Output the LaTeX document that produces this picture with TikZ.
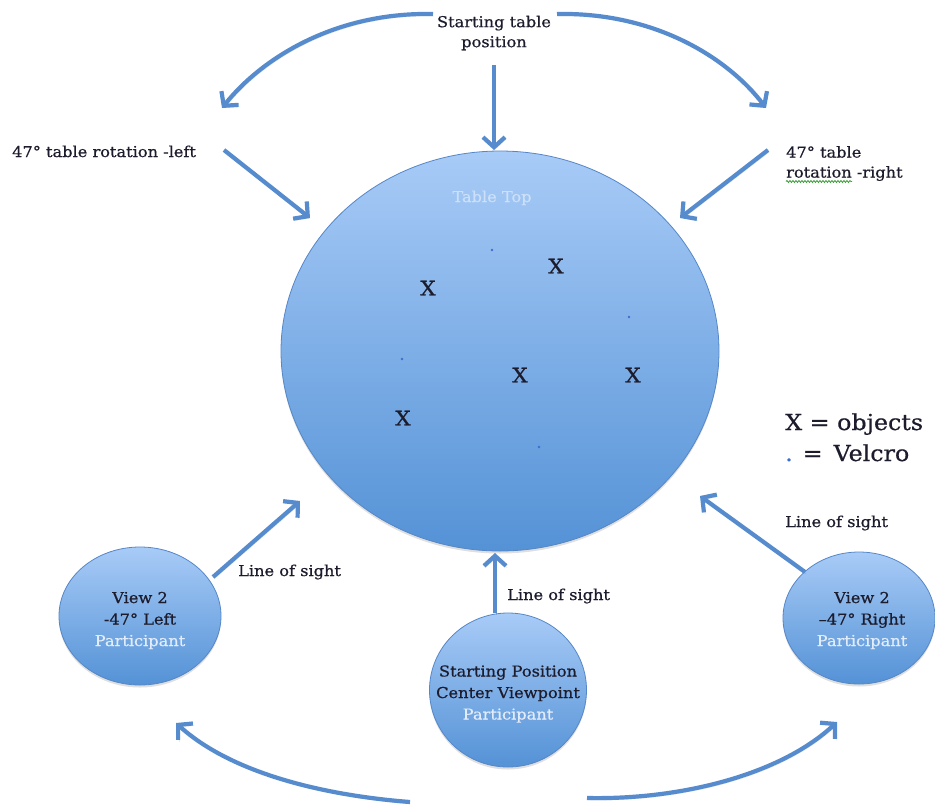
\documentclass[tikz,border=0pt]{standalone}
\usepackage{fontspec}
\setmainfont{DejaVu Serif}[FakeStretch=1.08,FakeBold=0.6]
\usetikzlibrary{arrows.meta,shapes.geometric,shadows,decorations.pathmorphing}
\definecolor{arrowblue}{RGB}{86,140,205}
\definecolor{topblue}{RGB}{168,203,247}
\definecolor{botblue}{RGB}{84,146,214}
\definecolor{edgeblue}{RGB}{85,135,200}
\definecolor{txt}{RGB}{28,28,45}
\definecolor{partw}{RGB}{226,236,250}
\definecolor{tabletop}{RGB}{205,224,247}
\definecolor{velcro}{RGB}{60,110,210}
\definecolor{spell}{RGB}{60,160,60}
\begin{document}
\begin{tikzpicture}[x=1pt,y=-1pt,
  arr/.style={draw=arrowblue, line width=4.2pt, -{Straight Barb[length=10pt,width=22pt]},
    preaction={draw=black, opacity=0.12, transform canvas={shift={(1.2pt,-2pt)}}}},
  disc/.style={ellipse, draw=edgeblue, line width=0.8pt, top color=topblue, bottom color=botblue,
    inner sep=0pt, drop shadow={shadow xshift=0pt,shadow yshift=-2.5pt,opacity=0.25}},
  lbl/.style={font=\fontsize{15}{20}\selectfont, text=txt, inner sep=0pt},
  intext/.style={font=\fontsize{15}{21.5}\selectfont, text=txt, inner sep=0pt, align=center},
  xmark/.style={font=\fontsize{20}{24}\selectfont, text=txt, inner sep=0pt},
  dot/.style={circle, fill=velcro, inner sep=0pt, minimum size=2.8pt},
  legend/.style={font=\fontsize{22}{26}\selectfont, text=txt, inner sep=0pt, anchor=base west}
]
\fill[white] (0,0) rectangle (935,807);
\useasboundingbox (0,0) rectangle (935,807);

% table top
\node[disc, minimum width=438pt, minimum height=400pt] (table) at (500,351) {};
\node[lbl, text=tabletop, anchor=base] (tt) at (492,202) {Table Top};

% objects and velcro
\node[xmark] (x1) at (428,288) {X};
\node[xmark] (x2) at (556,266) {X};
\node[xmark] (x3) at (520,375) {X};
\node[xmark] (x4) at (633,375) {X};
\node[xmark] (x5) at (403,418) {X};
\node[dot] (d1) at (492,250) {};
\node[dot] (d2) at (629,317) {};
\node[dot] (d3) at (402,359) {};
\node[dot] (d4) at (539,447) {};

% participants
\node[disc, minimum width=162pt, minimum height=138pt] (vl) at (140,616) {};
\node[intext] (vlt) at (140,620.5) {View 2\\-47° Left\\\textcolor{partw}{Participant}};
\node[disc, minimum width=157pt, minimum height=154pt] (cv) at (508,690) {};
\node[intext] (cvt) at (508,694) {Starting Position\\Center Viewpoint\\\textcolor{partw}{Participant}};
\node[disc, minimum width=152pt, minimum height=132pt] (vr) at (859,618) {};
\node[intext] (vrt) at (862,620.5) {View 2\\–47° Right\\\textcolor{partw}{Participant}};

% top labels
\node[lbl, align=center] (sp) at (494,33) {Starting table\\position};
\node[lbl, anchor=base west] (rotl) at (12,157) {47° table rotation -left};
\node[lbl, align=left, anchor=west] (rotr) at (786,163.5) {47° table\\rotation -right};
\draw[spell, line width=0.8pt, decorate, decoration={snake, amplitude=1pt, segment length=3pt}] (786,181.5) -- (852,181.5);

% legend
\node[legend] (lg1) at (785,430) {X = objects};
\node[legend] (lg2) at (785,461) {{\color{velcro}.}\hspace{10pt}=\hspace{11pt}Velcro};

% line of sight labels
\node[lbl, anchor=base west] (los1) at (238,576) {Line of sight};
\node[lbl, anchor=base west] (los2) at (507,600) {Line of sight};
\node[lbl, anchor=base west] (los3) at (785,527) {Line of sight};

% connector end points
\coordinate (tl0) at (433,14);  \coordinate (tl1) at (222,108);
\coordinate (tr0) at (557,14);  \coordinate (tr1) at (766,108);
\coordinate (vt0) at (494,65);  \coordinate (vt1) at (494,150);
\coordinate (dl0) at (224,150); \coordinate (dl1) at (310,218);
\coordinate (dr0) at (768,150); \coordinate (dr1) at (680,218);
\coordinate (sl0) at (213,577); \coordinate (sl1) at (300,501);
\coordinate (sc0) at (495,613); \coordinate (sc1) at (495,553);
\coordinate (sr0) at (805,572); \coordinate (sr1) at (700,496);
\coordinate (bl0) at (410,802); \coordinate (bl1) at (176,723);
\coordinate (br0) at (587,798); \coordinate (br1) at (837,722);

% arrows
\draw[arr] (tl0) .. controls (335,12) and (262,58) .. (tl1);
\draw[arr] (tr0) .. controls (655,12) and (728,58) .. (tr1);
\draw[arr] (vt0) -- (vt1);
\draw[arr] (dl0) -- (dl1);
\draw[arr] (dr0) -- (dr1);
\draw[arr] (sl0) -- (sl1);
\draw[arr] (sc0) -- (sc1);
\draw[arr] (sr0) -- (sr1);
\draw[arr] (bl0) .. controls (320,795) and (230,772) .. (bl1);
\draw[arr] (br0) .. controls (680,800) and (780,775) .. (br1);
\end{tikzpicture}
\end{document}
